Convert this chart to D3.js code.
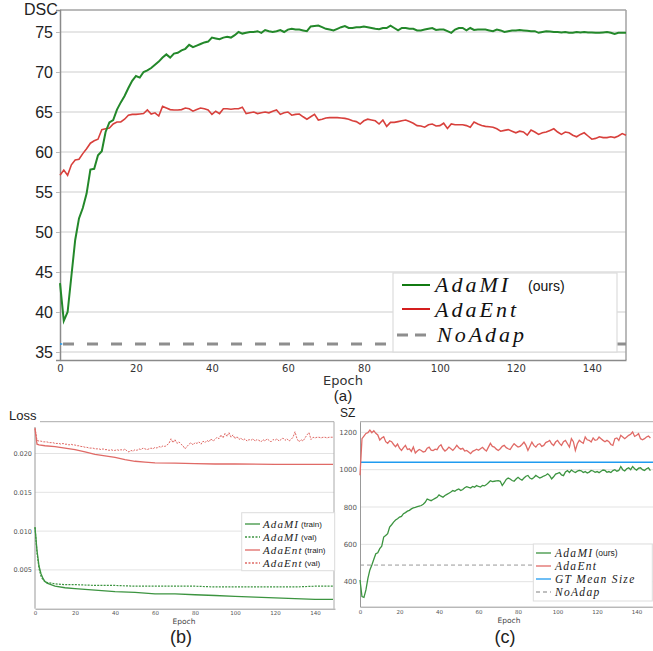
<!DOCTYPE html>
<html>
<head>
<meta charset="utf-8">
<script src="https://cdn.jsdelivr.net/npm/d3@7"></script>
<style>
  body { margin: 0; background: #fff; }
  svg { display: block; }
  .math { font-family: "Liberation Serif", "DejaVu Serif", serif; font-style: italic; }
  .sans { font-family: "Liberation Sans", Arial, sans-serif; }
</style>
</head>
<body>
<div id="fig"></div>
<script>
// ---------- data (a) DSC per epoch ----------
const dscTicks = [35, 40, 45, 50, 55, 60, 65, 70, 75];
const epochTicks = [0, 20, 40, 60, 80, 100, 120, 140];

const dscAdaMI = [43.6, 38.9, 40.0, 44.5, 49.0, 51.7, 53.0, 54.8, 57.8, 57.9,
  59.6, 60.1, 62.5, 63.7, 64.0, 65.3, 66.2, 67.0, 68.0, 68.9,
  69.5, 69.3, 70.0, 70.2, 70.5, 70.9, 71.3, 71.8, 72.2, 71.8,
  72.3, 72.4, 72.7, 72.9, 73.4, 73.1, 73.3, 73.5, 73.7, 73.8,
  74.3, 74.2, 74.1, 74.3, 74.4, 74.3, 74.6, 75.0, 74.8, 74.9,
  75.0, 75.0, 75.1, 74.9, 75.25, 75.1, 75.0, 75.1, 75.25, 75.0,
  75.3, 75.4, 75.3, 75.3, 75.2, 75.1, 75.7, 75.75, 75.8, 75.6,
  75.4, 75.3, 75.2, 75.4, 75.6, 75.75, 75.5, 75.5, 75.6, 75.6,
  75.7, 75.6, 75.5, 75.4, 75.35, 75.5, 75.5, 75.8, 75.5, 75.2,
  75.5, 75.5, 75.4, 75.4, 75.2, 75.2, 75.3, 75.4, 75.5, 75.25,
  75.3, 75.3, 75.1, 74.9, 75.3, 75.5, 75.5, 75.2, 75.5, 75.25,
  75.3, 75.3, 75.3, 75.2, 75.1, 75.3, 75.2, 75.0, 75.1, 75.2,
  75.2, 75.25, 75.2, 75.15, 75.1, 75.1, 74.9, 75.0, 75.1, 75.05,
  75.0, 75.0, 74.95, 75.0, 74.9, 74.9, 75.0, 74.95, 75.0, 74.95,
  74.95, 74.9, 74.9, 74.95, 75.0, 74.9, 74.75, 74.9, 74.9, 74.9];

const dscAdaEnt = [57.1, 57.75, 57.1, 58.4, 59.0, 59.1, 59.8, 60.4, 61.1, 61.4,
  61.6, 62.8, 62.9, 63.0, 63.5, 63.75, 63.75, 64.1, 64.6, 64.7,
  64.7, 64.75, 64.8, 65.25, 64.75, 64.9, 64.5, 65.7, 65.5, 65.3,
  65.25, 65.25, 65.3, 65.5, 65.4, 65.1, 65.3, 65.5, 65.4, 65.25,
  64.7, 65.1, 64.8, 65.4, 65.4, 65.35, 65.4, 65.4, 65.6, 64.8,
  64.9, 65.0, 64.8, 64.9, 65.0, 64.9, 65.1, 65.25, 64.7, 64.9,
  65.0, 64.6, 64.7, 64.75, 64.4, 64.1, 64.4, 64.7, 64.0, 64.1,
  64.25, 64.3, 64.3, 64.3, 64.25, 64.2, 64.1, 63.9, 63.8, 63.5,
  63.9, 64.1, 64.0, 63.9, 63.5, 64.0, 63.2, 63.7, 63.7, 63.8,
  63.9, 64.0, 63.8, 63.6, 63.3, 63.25, 63.1, 63.4, 63.5, 63.25,
  63.3, 63.6, 62.95, 63.5, 63.4, 63.4, 63.4, 63.3, 63.1, 63.75,
  63.5, 63.3, 63.2, 63.15, 63.1, 62.9, 62.6, 62.7, 62.8, 62.6,
  62.4, 62.6, 62.5, 62.1, 62.75, 62.5, 62.2, 62.4, 62.5, 62.7,
  62.9, 62.5, 62.2, 62.5, 62.4, 62.1, 61.9, 62.2, 62.4, 62.0,
  61.6, 61.7, 61.9, 61.8, 61.8, 61.9, 61.8, 62.0, 62.3, 62.1];

const dscNoAdap = 36;
const dscGT = 36;
// the blue GT line only shows past the ends of the grey dashes
const dscGTSpans = [[0, 0.6], [146.6, 149]];

// ---------- data (b) loss ----------
const lossTicks = [0.005, 0.010, 0.015, 0.020];
const lossMIEpochs = [0, 1, 2, 3, 4, 5, 6, 8, 10, 15, 20, 30, 40, 50, 60, 70, 80, 90, 100, 110, 120, 130, 140, 149];
const lossMITrain = [0.0105, 0.0075, 0.0055, 0.0045, 0.0039, 0.0035, 0.0033, 0.0031, 0.0029, 0.0027,
  0.0026, 0.0024, 0.0022, 0.0021, 0.0019, 0.0019, 0.0018, 0.0017, 0.0016, 0.0015, 0.0014, 0.0013, 0.0012, 0.0012];
const lossMIVal = [0.0105, 0.0072, 0.0052, 0.0042, 0.0037, 0.0035, 0.0034, 0.0033, 0.0032, 0.0031,
  0.0031, 0.0030, 0.0030, 0.0029, 0.0029, 0.0029, 0.0029, 0.0028, 0.0028, 0.0028, 0.0028, 0.0028, 0.0029, 0.0029];
const lossEntEpochs = [0, 1, 2, 5, 10, 15, 20, 25, 30, 35, 40, 45, 50, 55, 60, 70, 80, 90, 100, 120, 149];
const lossEntTrain = [0.0232, 0.0212, 0.0211, 0.0210, 0.0209, 0.0207, 0.0205, 0.0202, 0.0199, 0.0197,
  0.0195, 0.0192, 0.0190, 0.0189, 0.0188, 0.01875, 0.0187, 0.01865, 0.01865, 0.0186, 0.0186];
const lossEntVal = [0.0233, 0.0217, 0.0216, 0.0216, 0.0215, 0.0215, 0.0215, 0.0214, 0.0214, 0.0214, 0.0213,
  0.0213, 0.0213, 0.0212, 0.0213, 0.0212, 0.0212, 0.0211, 0.0212, 0.0211, 0.0211,
  0.0210, 0.0210, 0.0209, 0.0209, 0.0208, 0.0208, 0.0207, 0.0207, 0.0207, 0.0206,
  0.0206, 0.0206, 0.0205, 0.0206, 0.0205, 0.0205, 0.0204, 0.0205, 0.0204, 0.0204,
  0.0205, 0.0204, 0.0205, 0.0204, 0.0206, 0.0203, 0.0202, 0.0204, 0.0203, 0.0205,
  0.0204, 0.0206, 0.0205, 0.0207, 0.0206, 0.0205, 0.0206, 0.0207, 0.0206, 0.0208,
  0.0207, 0.0209, 0.0208, 0.0210, 0.0209, 0.0211, 0.0213, 0.0219, 0.0214, 0.0218,
  0.0213, 0.0215, 0.0212, 0.0210, 0.0206, 0.0209, 0.0212, 0.0214, 0.0211, 0.0214,
  0.0213, 0.0215, 0.0212, 0.0216, 0.0214, 0.0217, 0.0215, 0.0219, 0.0216, 0.0218,
  0.0221, 0.0219, 0.0224, 0.0220, 0.0226, 0.0222, 0.0227, 0.0221, 0.0224, 0.0219,
  0.0222, 0.0218, 0.0220, 0.0217, 0.0219, 0.0216, 0.0218, 0.0217, 0.0219, 0.0216,
  0.0218, 0.0217, 0.0215, 0.0218, 0.0216, 0.0219, 0.0217, 0.0215, 0.0218, 0.0217,
  0.0219, 0.0216, 0.0218, 0.0220, 0.0217, 0.0219, 0.0216, 0.0218, 0.0221, 0.0228,
  0.0219, 0.0215, 0.0218, 0.0216, 0.0220, 0.0224, 0.0227, 0.0218, 0.0221, 0.0220,
  0.0221, 0.0221, 0.0220, 0.0221, 0.0221, 0.0220, 0.0221, 0.0221, 0.0221];

// ---------- data (c) size ----------
const szTicks = [400, 600, 800, 1000, 1200];
const szGT = 1040;
const szNoAdap = 489;
const szAdaEnt = [970, 1166, 1180, 1194, 1198, 1212, 1198, 1209, 1195, 1186,
  1159, 1170, 1177, 1150, 1141, 1155, 1150, 1135, 1123, 1137,
  1115, 1103, 1118, 1130, 1108, 1112, 1098, 1121, 1089, 1100,
  1108, 1103, 1095, 1098, 1115, 1121, 1105, 1103, 1110, 1107,
  1125, 1133, 1112, 1100, 1108, 1121, 1112, 1103, 1115, 1130,
  1118, 1110, 1114, 1100, 1103, 1095, 1086, 1098, 1103, 1110,
  1104, 1112, 1120, 1108, 1100, 1121, 1141, 1125, 1121, 1110,
  1103, 1112, 1125, 1130, 1118, 1112, 1108, 1125, 1139, 1130,
  1121, 1125, 1135, 1148, 1130, 1103, 1125, 1148, 1130, 1121,
  1135, 1139, 1125, 1130, 1145, 1150, 1157, 1139, 1130, 1148,
  1157, 1141, 1130, 1150, 1157, 1139, 1121, 1166, 1150, 1103,
  1139, 1157, 1148, 1141, 1175, 1160, 1157, 1148, 1170, 1157,
  1160, 1175, 1166, 1157, 1150, 1157, 1150, 1135, 1130, 1166,
  1170, 1157, 1184, 1175, 1166, 1175, 1184, 1190, 1202, 1178,
  1184, 1193, 1166, 1160, 1166, 1175, 1180, 1170];
const szAdaMI = [409, 320, 316, 356, 418, 463, 489, 520, 550, 555,
  577, 590, 639, 648, 657, 693, 705, 719, 730, 737,
  746, 750, 764, 770, 778, 782, 790, 795, 798, 802,
  805, 808, 815, 825, 843, 838, 834, 840, 846, 852,
  865, 858, 852, 862, 868, 874, 880, 888, 884, 892,
  897, 888, 894, 903, 909, 905, 902, 910, 906, 915,
  910, 907, 916, 913, 920, 930, 941, 936, 938, 940,
  941, 938, 915, 930, 948, 955, 950, 942, 938, 950,
  959, 950, 944, 955, 965, 969, 955, 950, 958, 969,
  962, 955, 960, 966, 970, 978, 968, 951, 962, 976,
  980, 985, 972, 968, 988, 995, 985, 998, 990, 985,
  992, 996, 994, 985, 990, 982, 987, 996, 993, 986,
  990, 984, 992, 998, 996, 986, 990, 985, 995, 1000,
  992, 996, 1017, 1000, 993, 1005, 1010, 1000, 1017, 1005,
  998, 1008, 1010, 1000, 996, 1005, 1010, 995];

const green = "#23882a", red = "#d8403c";
const green2 = "#3c9440", red2 = "#e06a66", blue = "#1f9bf0";

const svg = d3.select("#fig").append("svg")
    .attr("width", 653)
    .attr("height", 651);
svg.append("rect").attr("width", 653).attr("height", 651).attr("fill", "#fff");

function grid(g, scale, ticks, x0, x1, color, w) {
  g.selectAll("line.grid").data(ticks).enter().append("line")
    .attr("class", "grid")
    .attr("x1", x0).attr("x2", x1)
    .attr("y1", d => scale(d)).attr("y2", d => scale(d))
    .attr("stroke", color).attr("stroke-width", w);
}

// ================= (a) =================
const xA = d3.scaleLinear().domain([0, 149]).range([60, 626]);
const yA = d3.scaleLinear().domain([34, 77.75]).range([360, 10]);
const gA = svg.append("g");
grid(gA, yA, dscTicks, 60, 626, "#dedede", 1.5);

gA.append("line").attr("x1", 60).attr("x2", 626).attr("y1", 10).attr("y2", 10).attr("stroke", "#a3a3a3").attr("stroke-width", 1.5);
gA.append("line").attr("x1", 626).attr("x2", 626).attr("y1", 10).attr("y2", 360).attr("stroke", "#a3a3a3").attr("stroke-width", 1.5);

const axA = gA.append("g").attr("transform", "translate(60,0)")
  .call(d3.axisLeft(yA).tickValues(dscTicks).tickSize(4).tickPadding(3));
axA.select(".domain").attr("stroke", "#8a8a8a").attr("stroke-width", 1.5);
axA.selectAll("line").attr("stroke", "#bbb");
axA.selectAll("text").attr("class", "sans").style("font-size", "16px").attr("fill", "#222");

const axAx = gA.append("g").attr("transform", "translate(0,360)")
  .call(d3.axisBottom(xA).tickValues(epochTicks).tickSize(0).tickPadding(5));
axAx.select(".domain").attr("stroke", "#8a8a8a").attr("stroke-width", 1.5);
axAx.selectAll("text").style("font-family", "DejaVu Sans").style("font-size", "10px").attr("fill", "#333");

gA.selectAll("line.gt").data(dscGTSpans).enter().append("line")
  .attr("class", "gt")
  .attr("x1", d => xA(d[0])).attr("x2", d => xA(d[1]))
  .attr("y1", yA(dscGT)).attr("y2", yA(dscGT)).attr("stroke", blue).attr("stroke-width", 1.5);
gA.append("line").attr("x1", xA(0)).attr("x2", xA(149))
  .attr("y1", yA(dscNoAdap)).attr("y2", yA(dscNoAdap))
  .attr("stroke", "#8e8e8e").attr("stroke-width", 3).attr("stroke-dasharray", "11,13").attr("stroke-dashoffset", -3);

const lineA = d3.line().x((d, i) => xA(i)).y(d => yA(d));
gA.append("path").datum(dscAdaEnt).attr("fill", "none").attr("stroke", red).attr("stroke-width", 1.6).attr("d", lineA);
gA.append("path").datum(dscAdaMI).attr("fill", "none").attr("stroke", green).attr("stroke-width", 2).attr("d", lineA);

gA.append("text").attr("class", "sans").attr("x", 24).attr("y", 15).style("font-size", "16px").attr("fill", "#222").text("DSC");
gA.append("text").attr("x", 343).attr("y", 385).attr("text-anchor", "middle")
  .style("font-family", "DejaVu Sans").style("font-size", "13px").attr("fill", "#333").text("Epoch");
gA.append("text").attr("class", "sans").attr("x", 343).attr("y", 401).attr("text-anchor", "middle")
  .style("font-size", "15px").attr("fill", "#222").text("(a)");

// legend (a)
const legA = gA.append("g");
legA.append("rect").attr("x", 393).attr("y", 273).attr("width", 224).attr("height", 79)
  .attr("fill", "#fff").attr("stroke", "#dcdcdc").attr("stroke-width", 1.2);
legA.append("line").attr("x1", 402).attr("x2", 430).attr("y1", 285).attr("y2", 285).attr("stroke", "#117a11").attr("stroke-width", 2);
legA.append("line").attr("x1", 402).attr("x2", 430).attr("y1", 309).attr("y2", 309).attr("stroke", "#d41e1e").attr("stroke-width", 2);
legA.append("line").attr("x1", 397).attr("x2", 431).attr("y1", 335).attr("y2", 335).attr("stroke", "#8e8e8e").attr("stroke-width", 3).attr("stroke-dasharray", "11,7");
legA.append("text").attr("class", "math").attr("x", 435).attr("y", 292).style("font-size", "22px").style("letter-spacing", "3px").attr("fill", "#111").text("AdaMI");
legA.append("text").attr("class", "sans").attr("x", 528).attr("y", 291).style("font-size", "14px").attr("fill", "#111").text("(ours)");
legA.append("text").attr("class", "math").attr("x", 435).attr("y", 317).style("font-size", "22px").style("letter-spacing", "3px").attr("fill", "#111").text("AdaEnt");
legA.append("text").attr("class", "math").attr("x", 437).attr("y", 342).style("font-size", "22px").style("letter-spacing", "3px").attr("fill", "#111").text("NoAdap");

// ================= (b) =================
const xB = d3.scaleLinear().domain([0, 150]).range([35, 335]);
const yB = d3.scaleLinear().domain([0, 0.0241]).range([608.7, 421.7]);
const gB = svg.append("g");
grid(gB, yB, lossTicks, 35, 334, "#e3e3e3", 1);
gB.append("line").attr("x1", 40).attr("x2", 334).attr("y1", 421.7).attr("y2", 421.7).attr("stroke", "#aaa").attr("stroke-width", 1);
gB.append("line").attr("x1", 334).attr("x2", 334).attr("y1", 421.7).attr("y2", 608.7).attr("stroke", "#aaa").attr("stroke-width", 1);

const axB = gB.append("g").attr("transform", "translate(35,0)")
  .call(d3.axisLeft(yB).tickValues(lossTicks).tickSize(0).tickPadding(3).tickFormat(d3.format(".3f")));
axB.select(".domain").attr("d", "M0,427V608.7").attr("stroke", "#999");
axB.selectAll("text").style("font-family", "DejaVu Sans").style("font-size", "6.5px").attr("fill", "#555");

const axBx = gB.append("g").attr("transform", "translate(0,608.7)")
  .call(d3.axisBottom(xB).tickValues(epochTicks).tickSize(0).tickPadding(2.5));
axBx.select(".domain").attr("stroke", "#999");
axBx.selectAll("text").style("font-family", "DejaVu Sans").style("font-size", "5.5px").attr("fill", "#555");

const lineBE = d3.line().x((d, i) => xB(lossEntEpochs[i])).y(d => yB(d));
const lineBM = d3.line().x((d, i) => xB(lossMIEpochs[i])).y(d => yB(d));
const lineBV = d3.line().x((d, i) => xB(i)).y(d => yB(d));
gB.append("path").datum(lossEntVal).attr("fill", "none").attr("stroke", red2).attr("stroke-width", 1).attr("stroke-dasharray", "2,1.2").attr("d", lineBV);
gB.append("path").datum(lossEntTrain).attr("fill", "none").attr("stroke", red2).attr("stroke-width", 1.3).attr("d", lineBE);
gB.append("path").datum(lossMIVal).attr("fill", "none").attr("stroke", green2).attr("stroke-width", 1.2).attr("stroke-dasharray", "2,1.2").attr("d", lineBM);
gB.append("path").datum(lossMITrain).attr("fill", "none").attr("stroke", green2).attr("stroke-width", 1.3).attr("d", lineBM);

gB.append("text").attr("class", "sans").attr("x", 9).attr("y", 420).style("font-size", "13px").attr("fill", "#222").text("Loss");
gB.append("text").attr("x", 184).attr("y", 624).attr("text-anchor", "middle")
  .style("font-family", "DejaVu Sans").style("font-size", "7.5px").attr("fill", "#444").text("Epoch");
gB.append("text").attr("class", "sans").attr("x", 181).attr("y", 643).attr("text-anchor", "middle")
  .style("font-size", "18px").attr("fill", "#222").text("(b)");

// legend entry: name in math italic, then a small sans tag right after it
function legendRow(g, d, x, y, lx0, lx1, nameSize, tagSize, spacing) {
  g.append("line").attr("x1", lx0).attr("x2", lx1).attr("y1", y).attr("y2", y)
    .attr("stroke", d.color).attr("stroke-width", 1.3).attr("stroke-dasharray", d.dash);
  const name = g.append("text").attr("class", "math").attr("x", x).attr("y", y + 4)
    .style("font-size", nameSize + "px").style("letter-spacing", spacing + "px").attr("fill", "#222").text(d.name);
  if (d.tag) {
    const w = name.node().getComputedTextLength();
    g.append("text").attr("class", "sans").attr("x", x + w + 2).attr("y", y + 3)
      .style("font-size", tagSize + "px").attr("fill", "#222").text(d.tag);
  }
}

const legB = gB.append("g");
legB.append("rect").attr("x", 241.7).attr("y", 512.7).attr("width", 93).attr("height", 58)
  .attr("fill", "#fff").attr("stroke", "#ddd").attr("stroke-width", 1);
const legBItems = [
  {name: "AdaMI", tag: "(train)", color: green2, dash: null},
  {name: "AdaMI", tag: "(val)", color: green2, dash: "2,1.5"},
  {name: "AdaEnt", tag: "(train)", color: red2, dash: null},
  {name: "AdaEnt", tag: "(val)", color: red2, dash: "2,1.5"}
];
legBItems.forEach((d, i) => legendRow(legB, d, 263, 524 + i * 13, 245, 260, 11, 8, 1.1));

// ================= (c) =================
const xC = d3.scaleLinear().domain([0, 148]).range([360, 652.4]);
const yC = d3.scaleLinear().domain([266, 1257]).range([606.7, 421.7]);
const gC = svg.append("g");
grid(gC, yC, szTicks, 360, 653, "#e3e3e3", 1);
gC.append("line").attr("x1", 360).attr("x2", 653).attr("y1", 421.7).attr("y2", 421.7).attr("stroke", "#aaa").attr("stroke-width", 1);

const axC = gC.append("g").attr("transform", "translate(360,0)")
  .call(d3.axisLeft(yC).tickValues(szTicks).tickSize(0).tickPadding(3).tickFormat(d3.format("d")));
axC.select(".domain").attr("stroke", "#999");
axC.selectAll("text").style("font-family", "DejaVu Sans").style("font-size", "7px").attr("fill", "#555");

const axCx = gC.append("g").attr("transform", "translate(0,606.7)")
  .call(d3.axisBottom(xC).tickValues(epochTicks).tickSize(0).tickPadding(3));
axCx.select(".domain").attr("stroke", "#999");
axCx.selectAll("text").style("font-family", "DejaVu Sans").style("font-size", "5.5px").attr("fill", "#555");

gC.append("line").attr("x1", xC(0)).attr("x2", 653).attr("y1", yC(szGT)).attr("y2", yC(szGT))
  .attr("stroke", blue).attr("stroke-width", 1.5);
gC.append("line").attr("x1", xC(0)).attr("x2", 653).attr("y1", yC(szNoAdap)).attr("y2", yC(szNoAdap))
  .attr("stroke", "#999").attr("stroke-width", 1).attr("stroke-dasharray", "4,3");

const lineC = d3.line().x((d, i) => xC(i)).y(d => yC(d));
gC.append("path").datum(szAdaEnt).attr("fill", "none").attr("stroke", red2).attr("stroke-width", 1.3).attr("d", lineC);
gC.append("path").datum(szAdaMI).attr("fill", "none").attr("stroke", green2).attr("stroke-width", 1.3).attr("d", lineC);

gC.append("text").attr("class", "sans").attr("x", 340).attr("y", 417).style("font-size", "12px").attr("fill", "#222").text("SZ");
gC.append("text").attr("x", 509).attr("y", 623).attr("text-anchor", "middle")
  .style("font-family", "DejaVu Sans").style("font-size", "7.5px").attr("fill", "#444").text("Epoch");
gC.append("text").attr("class", "sans").attr("x", 505).attr("y", 643).attr("text-anchor", "middle")
  .style("font-size", "18px").attr("fill", "#222").text("(c)");

const legC = gC.append("g");
legC.append("rect").attr("x", 533.3).attr("y", 544).attr("width", 119).attr("height", 57)
  .attr("fill", "#fff").attr("stroke", "#ddd").attr("stroke-width", 1);
const legCItems = [
  {name: "AdaMI", tag: "(ours)", color: green2, dash: null},
  {name: "AdaEnt", tag: "", color: red2, dash: null},
  {name: "GT Mean Size", tag: "", color: blue, dash: null},
  {name: "NoAdap", tag: "", color: "#aaa", dash: "4,3"}
];
legCItems.forEach((d, i) => legendRow(legC, d, 555, 553 + i * 13, 536, 551, 11.5, 8.5, 1.3));
</script>
</body>
</html>
